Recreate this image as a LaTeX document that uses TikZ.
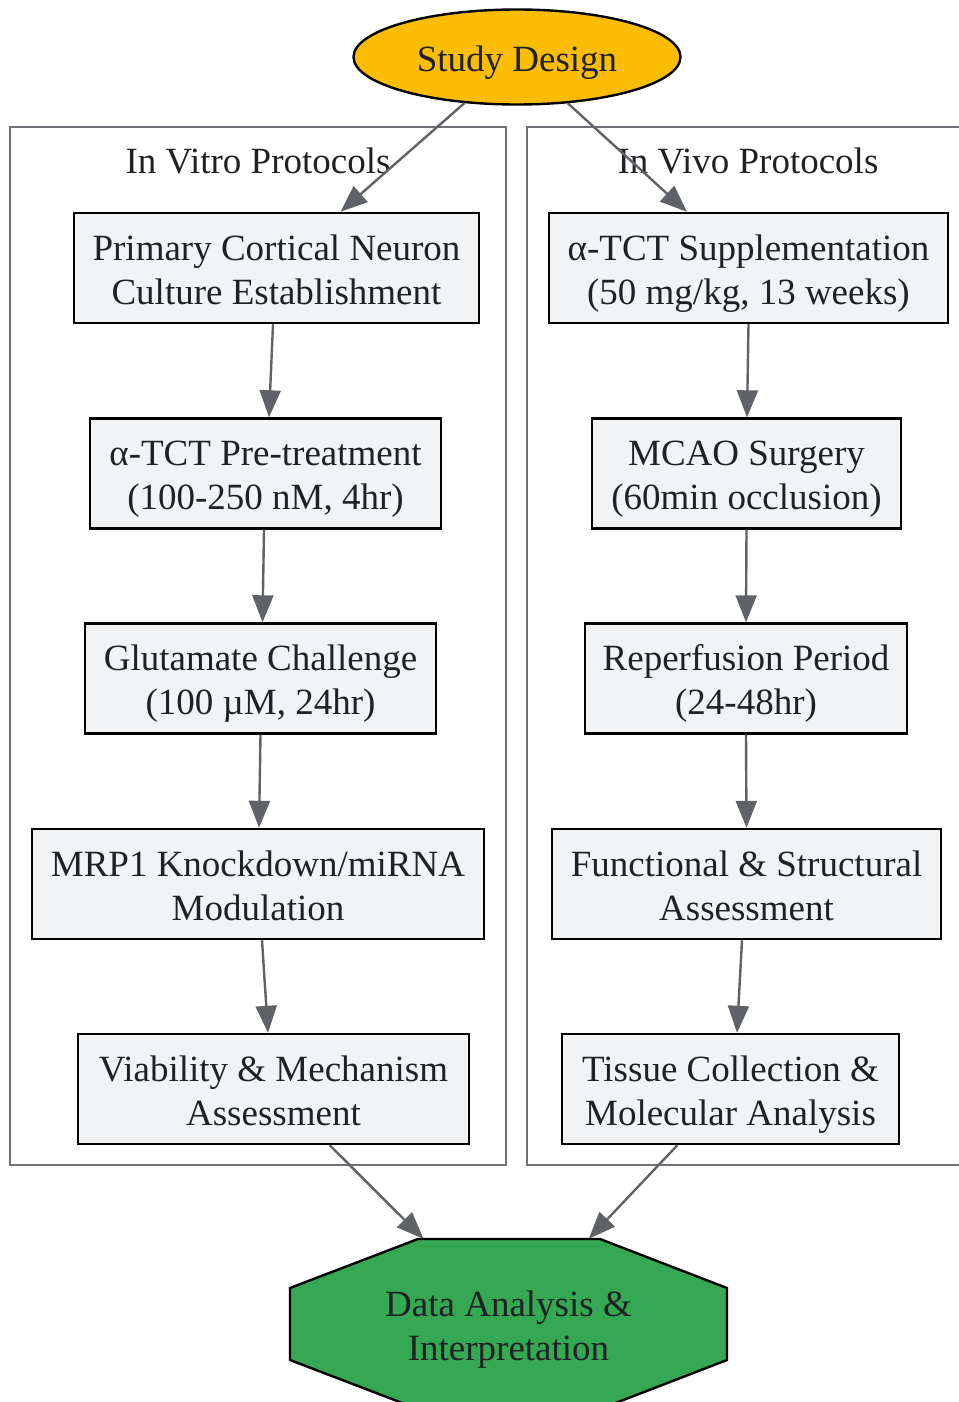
\documentclass[tikz,border=0pt]{standalone}
\usepackage{fontspec}
\setmainfont{Liberation Serif}
\usetikzlibrary{shapes.geometric,arrows.meta}
\definecolor{nodefill}{HTML}{F1F3F4}
\definecolor{txt}{HTML}{202124}
\definecolor{edgec}{HTML}{5F6368}
\definecolor{clus}{HTML}{6E7175}
\definecolor{gold}{HTML}{FBBC04}
\definecolor{grn}{HTML}{34A853}
\begin{document}
\begin{tikzpicture}[x=1pt,y=-1pt,
  every node/.style={font=\fontsize{37}{44}\selectfont, text=txt, align=center, inner sep=0pt},
  twoline/.style={text height=72pt, text depth=0pt},
  stepbox/.style={twoline, draw=black, line width=2.4pt, fill=nodefill, rectangle, minimum height=110},
  edge/.style={draw=edgec, line width=2.4pt, -{Triangle[length=27pt,width=21pt]}},
  cluster/.style={draw=clus, line width=2.4pt}
]
\useasboundingbox (0,0) rectangle (958,1402);
% clusters
\draw[cluster] (10,127) rectangle (506,1165);
\draw[cluster] (527,127) rectangle (990,1165);
\node[anchor=base] (tvitro) at (258,173) {In Vitro Protocols};
\node[anchor=base] (tvivo) at (748,173) {In Vivo Protocols};
% top
\node[ellipse, draw=black, line width=2.4pt, fill=gold, minimum width=327, minimum height=95, text height=30pt, text depth=0pt] (study) at (517,57) {Study Design};
% left
\node[stepbox, minimum width=405] (L1) at (276.5,268) {Primary Cortical Neuron\\Culture Establishment};
\node[stepbox, minimum width=351] (L2) at (265.5,473.5) {α-TCT Pre-treatment\\(100-250 nM, 4hr)};
\node[stepbox, minimum width=351] (L3) at (260.5,678.5) {Glutamate Challenge\\(100 µM, 24hr)};
\node[stepbox, minimum width=452] (L4) at (258,884) {MRP1 Knockdown/miRNA\\Modulation};
\node[stepbox, minimum width=391] (L5) at (273.5,1089) {Viability \& Mechanism\\Assessment};
% right
\node[stepbox, minimum width=399] (R1) at (748.5,268) {α-TCT Supplementation\\(50 mg/kg, 13 weeks)};
\node[stepbox, minimum width=309] (R2) at (746.5,473.5) {MCAO Surgery\\(60min occlusion)};
\node[stepbox, minimum width=322] (R3) at (746,678.5) {Reperfusion Period\\(24-48hr)};
\node[stepbox, minimum width=389] (R4) at (746.5,884) {Functional \& Structural\\Assessment};
\node[stepbox, minimum width=337] (R5) at (730.5,1089) {Tissue Collection \&\\Molecular Analysis};
% bottom octagon
\filldraw[fill=grn, draw=black, line width=2.4pt, line join=miter]
  (418,1239) -- (600,1239) -- (727,1288) -- (727,1360) -- (600,1409) -- (418,1409) -- (290,1360) -- (290,1288) -- cycle;
\node[twoline, rectangle, minimum width=437, minimum height=170] (data) at (508.5,1324) {Data Analysis \&\\Interpretation};
% edges
\draw[edge] (study) -- (L1);
\draw[edge] (study) -- (R1);
\draw[edge] ([xshift=-3.5pt]L1.south) -- ([xshift=3.5pt]L2.north);
\draw[edge] ([xshift=-1.5pt]L2.south) -- ([xshift=2pt]L3.north);
\draw[edge] (L3.south) -- ([xshift=1pt]L4.north);
\draw[edge] ([xshift=4pt]L4.south) -- ([xshift=-5.5pt]L5.north);
\draw[edge] (L5) -- (data);
\draw[edge] (R1.south) -- ([xshift=0.5pt]R2.north);
\draw[edge] (R2.south) -- (R3.north);
\draw[edge] (R3.south) -- (R4.north);
\draw[edge] ([xshift=-4.5pt]R4.south) -- ([xshift=6.5pt]R5.north);
\draw[edge] (R5) -- (data);
\end{tikzpicture}
\end{document}
